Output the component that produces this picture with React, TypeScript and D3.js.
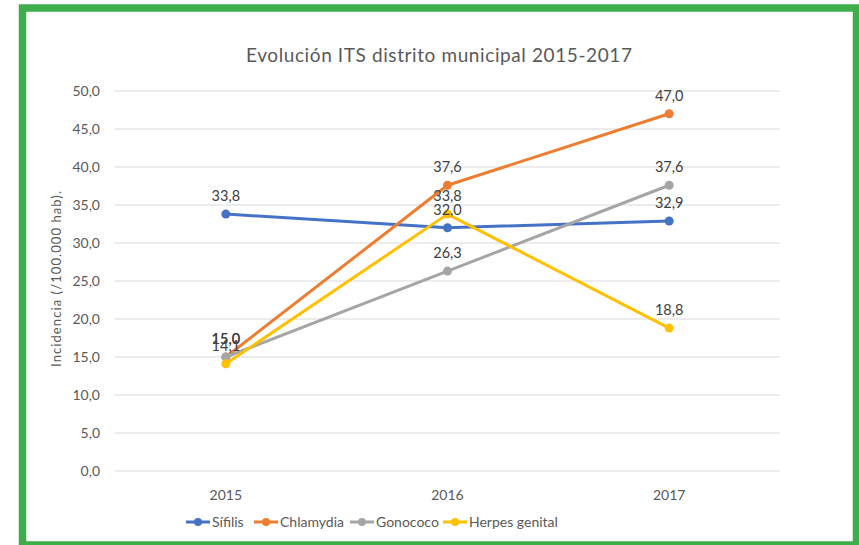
import { useEffect, useRef } from 'react'
import * as d3 from 'd3'

const years = ['2015', '2016', '2017']
const sifilis = [33.8, 32.0, 32.9]
const chlamydia = [15.0, 37.6, 47.0]
const gonococo = [15.0, 26.3, 37.6]
const herpes = [14.1, 33.8, 18.8]
const seriesNames = ['Sífilis', 'Chlamydia', 'Gonococo', 'Herpes genital']
const yTicks = [0, 5, 10, 15, 20, 25, 30, 35, 40, 45, 50]

const colors = ['#4472C4', '#ED7D31', '#A5A5A5', '#FFC000']
const FONT = 'Lato, "Open Sans", sans-serif'

export default function App() {
  const ref = useRef<SVGSVGElement>(null)

  useEffect(() => {
    if (!ref.current) return
    const svg = d3.select(ref.current)
    svg.selectAll('*').remove()

    const width = 859
    const height = 545

    svg.append('rect').attr('width', width).attr('height', height).attr('fill', '#ffffff')

    // green frame
    svg.append('rect')
      .attr('x', 22.5).attr('y', 8)
      .attr('width', 834).attr('height', 537)
      .attr('fill', '#ffffff')
      .attr('stroke', '#3DAE49').attr('stroke-width', 7.5)

    const x = d3.scalePoint<string>().domain(years).range([115, 780]).padding(0.5)
    const y = d3.scaleLinear().domain([0, 50]).range([471, 91])

    svg.append('text')
      .attr('x', 439).attr('y', 62)
      .attr('text-anchor', 'middle')
      .attr('textLength', 386).attr('lengthAdjust', 'spacing')
      .style('font-family', FONT).style('font-size', '19px').style('fill', '#595959')
      .text('Evolución ITS distrito municipal 2015-2017')

    // gridlines + y labels
    svg.append('g').selectAll('line')
      .data(yTicks).enter().append('line')
      .attr('x1', 115).attr('x2', 780)
      .attr('y1', d => y(d)).attr('y2', d => y(d))
      .attr('stroke', '#D9D9D9').attr('stroke-width', 1)

    svg.append('g').selectAll('text')
      .data(yTicks).enter().append('text')
      .attr('x', 100).attr('y', d => y(d))
      .attr('dy', '0.35em')
      .attr('text-anchor', 'end')
      .style('font-family', FONT).style('font-size', '14px').style('fill', '#595959')
      .text(d => d3.format('.1f')(d).replace('.', ','))

    svg.append('g').selectAll('text')
      .data(years).enter().append('text')
      .attr('x', d => x(d)!).attr('y', 500)
      .attr('text-anchor', 'middle')
      .style('font-family', FONT).style('font-size', '14px').style('fill', '#595959')
      .text(d => d)

    svg.append('text')
      .attr('transform', 'translate(61,279) rotate(-90)')
      .attr('text-anchor', 'middle')
      .attr('textLength', 176).attr('lengthAdjust', 'spacing')
      .style('font-family', FONT).style('font-size', '13px').style('fill', '#595959')
      .text('Incidencia (/100.000 hab).')

    const allSeries = [sifilis, chlamydia, gonococo, herpes]
    const line = d3.line<number>()
      .x((_, i) => x(years[i])!)
      .y(d => y(d))

    allSeries.forEach((vals, si) => {
      const g = svg.append('g')
      g.append('path')
        .attr('d', line(vals))
        .attr('fill', 'none')
        .attr('stroke', colors[si])
        .attr('stroke-width', 3)
        .attr('stroke-linejoin', 'round')
        .attr('stroke-linecap', 'round')
      g.selectAll('circle')
        .data(vals).enter().append('circle')
        .attr('cx', (_, i) => x(years[i])!)
        .attr('cy', d => y(d))
        .attr('r', 4.5)
        .attr('fill', colors[si])
    })

    // data labels
    allSeries.forEach(vals => {
      svg.append('g').selectAll('text')
        .data(vals).enter().append('text')
        .attr('x', (_, i) => x(years[i])!)
        .attr('y', d => y(d) - 13)
        .attr('text-anchor', 'middle')
        .style('font-family', FONT).style('font-size', '14.5px').style('fill', '#404040')
        .text(d => d3.format('.1f')(d).replace('.', ','))
    })

    // legend
    const legendX = [186, 254, 350, 443]
    const leg = svg.append('g')
    seriesNames.forEach((name, i) => {
      const lx = legendX[i]
      leg.append('line')
        .attr('x1', lx).attr('x2', lx + 24)
        .attr('y1', 522).attr('y2', 522)
        .attr('stroke', colors[i]).attr('stroke-width', 3)
      leg.append('circle')
        .attr('cx', lx + 12).attr('cy', 522).attr('r', 4)
        .attr('fill', colors[i])
      leg.append('text')
        .attr('x', lx + 26).attr('y', 522)
        .attr('dy', '0.35em')
        .style('font-family', FONT).style('font-size', '14px').style('fill', '#595959')
        .text(name)
    })
  }, [])

  return (
    <svg
      ref={ref}
      width={859}
      height={545}
      style={{ position: 'absolute', left: 0, top: 0, display: 'block' }}
    />
  )
}
